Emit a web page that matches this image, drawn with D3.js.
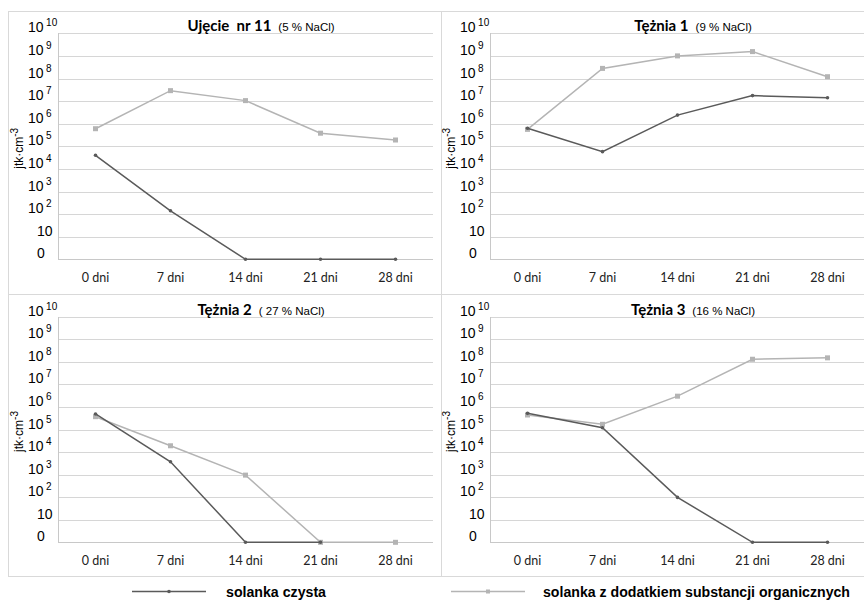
<!DOCTYPE html>
<html>
<head>
<meta charset="utf-8">
<script src="https://cdn.jsdelivr.net/npm/d3@7/dist/d3.min.js"></script>
<style>
  body { margin: 0; background: #fff; }
  svg { display: block; }
</style>
</head>
<body>
<svg width="864" height="606"></svg>
<script>
// kategorie (dni inkubacji)
var days = ["0 dni", "7 dni", "14 dni", "21 dni", "28 dni"];
var panelTitles = ["Ujęcie  nr 11", "Tężnia 1", "Tężnia 2", "Tężnia 3"];
var panelSalt = ["(5 % NaCl)", "(9 % NaCl)", "( 27 % NaCl)", "(16 % NaCl)"];
var seriesNames = ["solanka czysta", "solanka z dodatkiem substancji organicznych"];
// wykładniki na osi Y: 0, 10, 10^2 ... 10^10
var yTicks = [0, 1, 2, 3, 4, 5, 6, 7, 8, 9, 10];

// liczebność, jtk·cm-3 (null = brak punktu)
var ujecieCzysta   = [4e4, 1.4e2, 0, 0, 0];
var ujecieOrg      = [6e5, 2.9e7, 1.05e7, 3.8e5, 1.9e5];
var teznia1Czysta  = [6.3e5, 5.8e4, 2.4e6, 1.75e7, 1.4e7];
var teznia1Org     = [5.6e5, 2.8e8, 1e9, 1.55e9, 1.2e8];
var teznia2Czysta  = [4.9e5, 3.7e3, 0, 0, null];
var teznia2Org     = [3.7e5, 1.9e4, 9.5e2, 0, 0];
var teznia3Czysta  = [5.2e5, 1.2e5, 98, 0, 0];
var teznia3Org     = [4.4e5, 1.7e5, 3e6, 1.3e8, 1.5e8];

var DARK = "#5a5a5a";
var LIGHT = "#b4b4b4";
var GRID = "#d6d6d6";
var PLOT_W = 375;

var svg = d3.select("svg");

// ramki paneli
var frame = svg.append("g").attr("fill", "none").attr("stroke", "#d9d9d9").attr("stroke-width", 1);
frame.append("rect").attr("x", 8.5).attr("y", 11.5).attr("width", 870).attr("height", 565);
frame.append("line").attr("x1", 441.5).attr("x2", 441.5).attr("y1", 11).attr("y2", 577);
frame.append("line").attr("x1", 8).attr("x2", 870).attr("y1", 294.5).attr("y2", 294.5);

var panels = [
  {left: 58,  top: 33.3,  bottom: 259.3, czysta: ujecieCzysta,  org: ujecieOrg},
  {left: 490, top: 33.3,  bottom: 259.3, czysta: teznia1Czysta, org: teznia1Org},
  {left: 58,  top: 316.7, bottom: 542.3, czysta: teznia2Czysta, org: teznia2Org},
  {left: 490, top: 316.7, bottom: 542.3, czysta: teznia3Czysta, org: teznia3Org}
];

function toExp(v) {
  if (v == null) return null;
  return v > 0 ? Math.log10(v) : 0;
}

panels.forEach(function(p, i) {
  var g = svg.append("g");
  var x = d3.scaleBand().domain(days).range([p.left, p.left + PLOT_W]).padding(0);
  var y = d3.scaleLinear().domain([0, 10]).range([p.bottom, p.top]);
  var cx = function(d, j) { return x(days[j]) + x.bandwidth() / 2; };

  // linie siatki
  g.append("g").selectAll("line")
    .data(yTicks)
    .enter().append("line")
    .attr("x1", p.left).attr("x2", p.left + PLOT_W)
    .attr("y1", function(d) { return Math.round(y(d)) + 0.5; })
    .attr("y2", function(d) { return Math.round(y(d)) + 0.5; })
    .attr("stroke", function(d) { return d == 0 ? "#c8c8c8" : GRID; })
    .attr("stroke-width", 1);
  g.append("line")
    .attr("x1", p.left + 0.5).attr("x2", p.left + 0.5)
    .attr("y1", Math.round(y(10))).attr("y2", Math.round(y(0)) + 1)
    .attr("stroke", "#c8c8c8");

  // etykiety osi Y
  var yl = g.append("g").selectAll("text")
    .data(yTicks)
    .enter().append("text")
    .attr("x", function(d) { return d < 2 ? p.left - 21 : p.left - 30; })
    .attr("y", function(d) { return Math.round(y(d)) - 1; })
    .attr("text-anchor", "start")
    .attr("font-family", "'Liberation Sans', Arial, sans-serif")
    .attr("font-size", 14)
    .attr("fill", "#000");
  yl.each(function(d) {
    var t = d3.select(this);
    if (d == 0) { t.text("0"); return; }
    t.append("tspan").text("10");
    if (d > 1) {
      t.append("tspan").attr("dx", 2.5).attr("dy", -6).attr("font-size", 10).text(d);
    }
  });

  // tytuł osi Y
  var yt = g.append("text")
    .attr("transform", "translate(" + (p.left - 35) + "," + ((p.top + p.bottom) / 2 + 2) + ") rotate(-90)")
    .attr("text-anchor", "middle")
    .attr("font-family", "'Liberation Sans', Arial, sans-serif")
    .attr("font-size", 12);
  yt.append("tspan").text("jtk·cm");
  yt.append("tspan").attr("dy", -5).attr("font-size", 10).text("-3");

  // etykiety osi X
  g.append("g").selectAll("text")
    .data(days)
    .enter().append("text")
    .attr("x", function(d) { return x(d) + x.bandwidth() / 2; })
    .attr("y", p.bottom + 23)
    .attr("text-anchor", "middle")
    .attr("font-family", "Lato, 'Open Sans', sans-serif")
    .attr("font-size", 12.5)
    .attr("fill", "#222")
    .text(function(d) { return d; });

  // tytuł panelu
  var tt = g.append("text")
    .attr("x", p.left + 203)
    .attr("y", p.top - 2)
    .attr("text-anchor", "middle")
    .style("white-space", "pre");
  tt.append("tspan")
    .attr("font-family", "Lato, 'Open Sans', sans-serif")
    .attr("font-weight", "bold")
    .attr("font-size", 15)
    .text(panelTitles[i]);
  tt.append("tspan")
    .attr("dx", 7)
    .attr("font-family", "'Liberation Sans', Arial, sans-serif")
    .attr("font-size", 11.5)
    .text(panelSalt[i]);

  var line = d3.line()
    .defined(function(d) { return d != null; })
    .x(cx)
    .y(function(d) { return y(d); });

  var series = [
    {vals: p.org.map(toExp), color: LIGHT, sq: true},
    {vals: p.czysta.map(toExp), color: DARK, sq: false}
  ];
  series.forEach(function(s) {
    g.append("path")
      .datum(s.vals)
      .attr("d", line)
      .attr("fill", "none")
      .attr("stroke", s.color)
      .attr("stroke-width", 1.5);
    var pts = s.vals.map(function(v, j) { return {v: v, j: j}; })
      .filter(function(d) { return d.v != null; });
    if (s.sq) {
      g.append("g").selectAll("rect")
        .data(pts).enter().append("rect")
        .attr("x", function(d) { return cx(d.v, d.j) - 2.5; })
        .attr("y", function(d) { return y(d.v) - 2.5; })
        .attr("width", 5).attr("height", 5)
        .attr("fill", s.color);
    } else {
      g.append("g").selectAll("circle")
        .data(pts).enter().append("circle")
        .attr("cx", function(d) { return cx(d.v, d.j); })
        .attr("cy", function(d) { return y(d.v); })
        .attr("r", 1.8)
        .attr("fill", s.color);
    }
  });
});

// legenda
var legend = [
  {x: 132, tx: 226, w: 100, color: DARK, sq: false},
  {x: 451, tx: 543, w: 307, color: LIGHT, sq: true}
];
legend.forEach(function(l, i) {
  var lg = svg.append("g");
  lg.append("line")
    .attr("x1", l.x).attr("x2", l.x + 74)
    .attr("y1", 591.5).attr("y2", 591.5)
    .attr("stroke", l.color).attr("stroke-width", 1.5);
  if (l.sq) {
    lg.append("rect").attr("x", l.x + 37 - 2).attr("y", 589.5).attr("width", 4).attr("height", 4).attr("fill", l.color);
  } else {
    lg.append("circle").attr("cx", l.x + 37).attr("cy", 591.5).attr("r", 1.8).attr("fill", l.color);
  }
  lg.append("text")
    .attr("x", l.tx).attr("y", 596.5)
    .attr("font-family", "'Liberation Sans Narrow', 'Arial Narrow', 'Liberation Sans', sans-serif")
    .attr("font-weight", "bold")
    .attr("font-size", 14)
    .attr("textLength", l.w)
    .attr("lengthAdjust", "spacingAndGlyphs")
    .text(seriesNames[i]);
});
</script>
</body>
</html>
